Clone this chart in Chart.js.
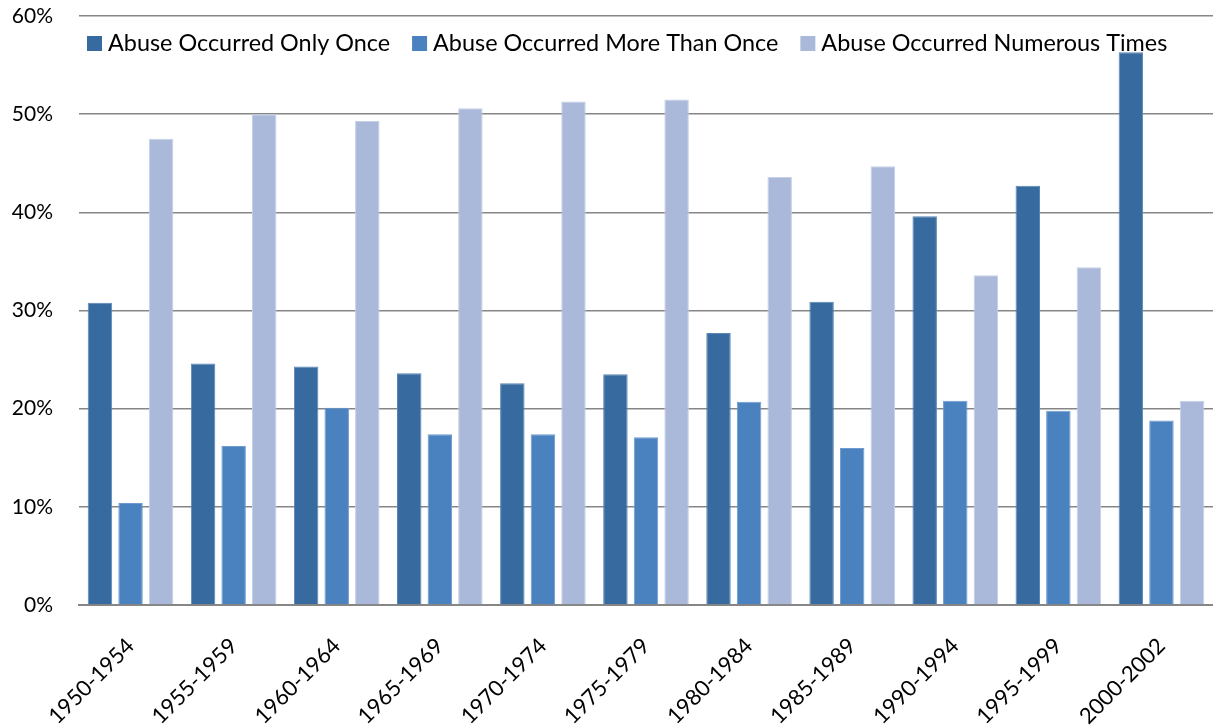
<!DOCTYPE html>
<html>
<head>
<meta charset="utf-8">
<script src="https://cdn.jsdelivr.net/npm/chart.js@4/dist/chart.umd.min.js"></script>
<style>
  html, body { margin: 0; padding: 0; background: #fff; }
  #grafico { display: block; }
</style>
</head>
<body>
<canvas id="grafico" width="1213" height="727"></canvas>
<script>
// periodos (eixo x)
var periodos = ["1950-1954", "1955-1959", "1960-1964", "1965-1969", "1970-1974",
  "1975-1979", "1980-1984", "1985-1989", "1990-1994", "1995-1999", "2000-2002"];

var nomesSeries = ["Abuse Occurred Only Once", "Abuse Occurred More Than Once", "Abuse Occurred Numerous Times"];

// valores em %
var soUmaVez = [30.8, 24.6, 24.3, 23.6, 22.6, 23.5, 27.7, 30.9, 39.6, 42.7, 56.3];
var maisDeUmaVez = [10.4, 16.2, 20.1, 17.4, 17.4, 17.1, 20.7, 16.0, 20.8, 19.8, 18.8];
var variasVezes = [47.5, 50.0, 49.3, 50.6, 51.3, 51.5, 43.6, 44.7, 33.6, 34.4, 20.8];

var coresBarras = ["#376a9f", "#4a81bf", "#aab9d9"];
var coresBorda = ["#5a86b4", "#6f9ad0", "#c4d0e6"];

var fonte = "Lato, 'Liberation Sans', sans-serif";

function serie(i, valores) {
  return {
    label: nomesSeries[i],
    data: valores,
    backgroundColor: coresBarras[i],
    borderColor: coresBorda[i],
    borderWidth: 1,
    categoryPercentage: 0.89,
    barPercentage: 0.8,
  };
}

// legenda em linha, dentro da area do grafico (como no Excel)
var legendaInterna = {
  id: "legendaInterna",
  afterDatasetsDraw: function (chart) {
    var ctx = chart.ctx;
    var x = chart.chartArea.left + 8;
    var y = 43;
    ctx.save();
    ctx.font = "23.4px " + fonte;
    ctx.textBaseline = "middle";
    chart.data.datasets.forEach(function (ds) {
      ctx.fillStyle = ds.backgroundColor;
      ctx.fillRect(x, y - 7, 15, 15);
      ctx.fillStyle = "#000";
      ctx.fillText(ds.label, x + 21, y);
      x += 21 + ctx.measureText(ds.label).width + 22;
    });
    ctx.restore();
  },
};

new Chart(document.getElementById("grafico"), {
  type: "bar",
  data: {
    labels: periodos,
    datasets: [serie(0, soUmaVez), serie(1, maisDeUmaVez), serie(2, variasVezes)],
  },
  options: {
    responsive: false,
    animation: false,
    layout: { padding: { top: 16, right: 0, left: 0, bottom: 0 } },
    plugins: {
      legend: { display: false },
      tooltip: { enabled: false },
    },
    scales: {
      x: {
        grid: { display: false },
        border: { color: "#868686", width: 2 },
        ticks: {
          color: "#000",
          font: { family: fonte, size: 22 },
          maxRotation: 45,
          minRotation: 45,
          padding: 20,
        },
        afterFit: function (scale) { scale.height = 122; },
      },
      y: {
        min: 0,
        max: 60,
        border: { display: false },
        grid: {
          color: "#868686",
          lineWidth: 1.5,
          drawTicks: true,
          tickLength: 26,
          tickColor: "rgba(0,0,0,0)",
        },
        ticks: {
          stepSize: 10,
          color: "#000",
          padding: 0,
          font: { family: fonte, size: 21 },
          callback: function (v) { return v + "%"; },
        },
        afterFit: function (scale) { scale.width = 79; },
      },
    },
  },
  plugins: [legendaInterna],
});
</script>
</body>
</html>
